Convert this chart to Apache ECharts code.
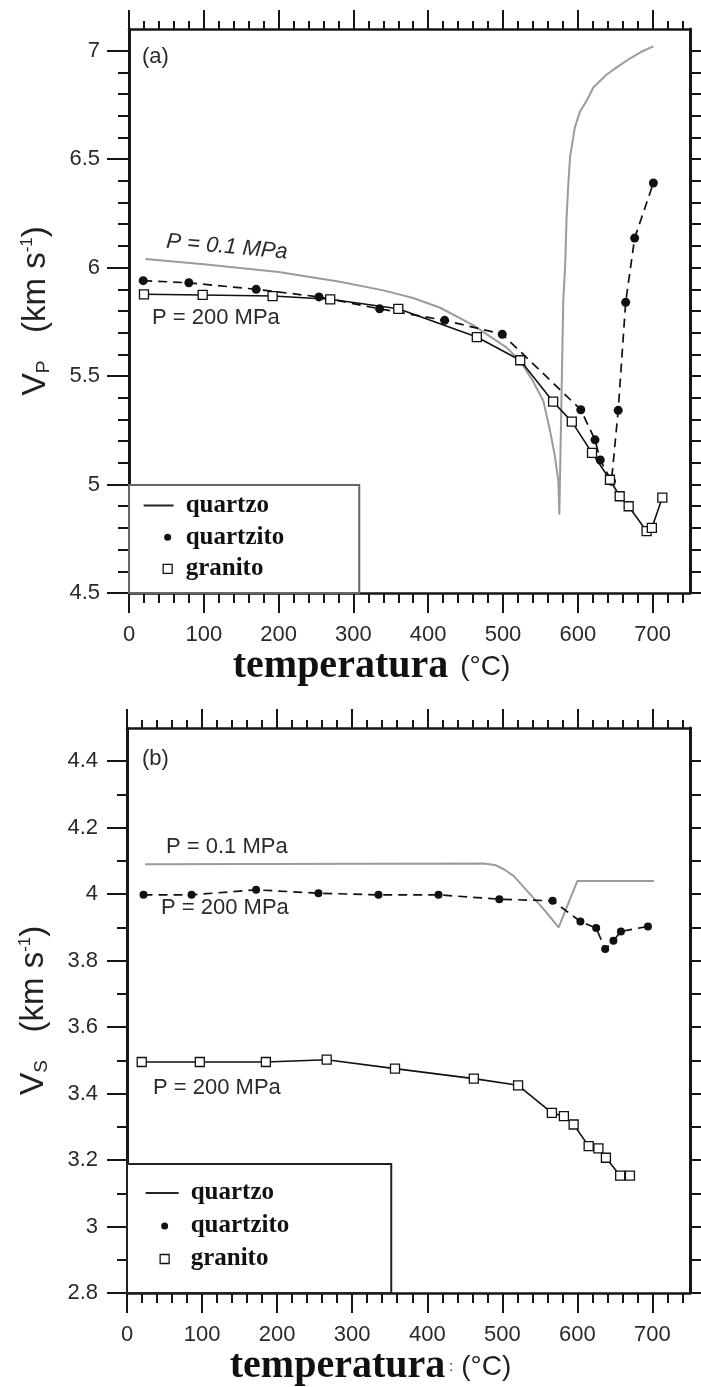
<!DOCTYPE html>
<html>
<head>
<meta charset="utf-8">
<script src="https://cdn.jsdelivr.net/npm/echarts@6/dist/echarts.min.js"></script>
<style>
  html, body { margin: 0; padding: 0; background: #fff; }
  #chart { width: 701px; height: 1387px; }
</style>
</head>
<body>
<div id="chart"></div>
<script>
// ---- tick values ----
const tempTicks = [0, 100, 200, 300, 400, 500, 600, 700];
const vpTicks = [4.5, 5, 5.5, 6, 6.5, 7];
const vsTicks = [2.8, 3, 3.2, 3.4, 3.6, 3.8, 4, 4.2, 4.4];

// ---- (a) Vp, quartzo at P = 0.1 MPa (alpha-beta transition near 573 °C) ----
const vpQuartzoT = [22, 100, 200, 282, 340, 380, 416, 460, 505, 523, 540, 554, 563, 569, 574, 575.3,
                    580.6, 583, 585, 587.3, 589.6, 596, 603, 612, 620.7, 638.6, 655, 670, 685, 701];
const vpQuartzoV = [6.04, 6.016, 5.98, 5.935, 5.895, 5.86, 5.815, 5.735, 5.631, 5.569, 5.477, 5.385, 5.246, 5.139, 5.016, 4.862,
                    5.85, 6.0, 6.23, 6.385, 6.508, 6.646, 6.72, 6.77, 6.83, 6.89, 6.93, 6.965, 6.995, 7.02];

// ---- (a) Vp, quartzito at P = 200 MPa ----
const vpQuartzitoT = [19, 80, 170, 254, 335, 422, 499, 604, 623, 630, 645, 654, 664, 676, 701];
const vpQuartzitoV = [5.94, 5.93, 5.90, 5.865, 5.81, 5.757, 5.693, 5.345, 5.206, 5.113, 5.015, 5.342, 5.84, 6.136, 6.39];

// ---- (a) Vp, granito at P = 200 MPa ----
const vpGranitoT = [20, 98.5, 192, 269, 360, 465, 523, 567, 592, 619, 643, 656, 668, 692, 699, 713];
const vpGranitoV = [5.877, 5.874, 5.869, 5.854, 5.81, 5.68, 5.573, 5.382, 5.29, 5.146, 5.022, 4.946, 4.90, 4.785, 4.80, 4.94];

// ---- (b) Vs, quartzo at P = 0.1 MPa ----
const vsQuartzoT = [24, 475, 490, 502, 515, 533, 555, 575, 600, 702];
const vsQuartzoV = [4.09, 4.092, 4.088, 4.075, 4.055, 4.01, 3.955, 3.90, 4.04, 4.04];

// ---- (b) Vs, quartzito at P = 200 MPa ----
const vsQuartzitoT = [22, 86, 172, 255, 335, 415, 496, 567, 604, 625, 637, 648, 658, 694];
const vsQuartzitoV = [3.998, 3.998, 4.013, 4.003, 3.998, 3.998, 3.985, 3.98, 3.918, 3.898, 3.835, 3.86, 3.888, 3.903];

// ---- (b) Vs, granito at P = 200 MPa ----
const vsGranitoT = [19.6, 97, 185, 266, 357, 462, 521, 566, 582, 595, 615, 628, 638, 657, 670];
const vsGranitoV = [3.495, 3.495, 3.495, 3.502, 3.475, 3.445, 3.425, 3.342, 3.332, 3.307, 3.242, 3.235, 3.207, 3.153, 3.153];

const zip = (xs, ys) => xs.map((x, i) => [x, ys[i]]);

const INK = '#161616';
const SANS = '"Liberation Sans", Arial, sans-serif';
const SERIF = '"Liberation Serif", "Times New Roman", serif';

function xAxes(grid, nameRich, nameText, nameGap) {
  return [
    {
      type: 'value', gridIndex: grid, position: 'bottom',
      min: 0, max: 750, interval: 100,
      axisLine: { onZero: false, lineStyle: { color: INK, width: 2.5 } },
      axisTick: { show: true, length: 20, customValues: tempTicks, lineStyle: { color: INK, width: 2 } },
      minorTick: { show: true, splitNumber: 5, length: 10, lineStyle: { color: INK, width: 2 } },
      axisLabel: { customValues: tempTicks, margin: 31, fontFamily: SANS, fontSize: 22, color: '#2a2a2a' },
      splitLine: { show: false }, minorSplitLine: { show: false },
      name: nameText, nameLocation: 'middle', nameGap: nameGap,
      nameTextStyle: { padding: [0, 76, 0, 0], rich: nameRich }
    },
    {
      type: 'value', gridIndex: grid, position: 'top',
      min: 0, max: 750, interval: 100,
      axisLine: { onZero: false, lineStyle: { color: INK, width: 2.5 } },
      axisTick: { show: true, length: 19, customValues: tempTicks, lineStyle: { color: INK, width: 2 } },
      minorTick: { show: true, splitNumber: 5, length: 8, lineStyle: { color: INK, width: 2 } },
      axisLabel: { show: false },
      splitLine: { show: false }
    }
  ];
}

function yAxes(grid, min, max, interval, ticks, minorSplit, majorLen, minorLen, nameText) {
  const yRich = {
    v: { fontFamily: SANS, fontSize: 34, color: '#222' },
    sub: { fontFamily: SANS, fontSize: 19, color: '#222', verticalAlign: 'bottom' },
    u: { fontFamily: SANS, fontSize: 33, color: '#222' },
    sup: { fontFamily: SANS, fontSize: 17, color: '#222', verticalAlign: 'top' }
  };
  return [
    {
      type: 'value', gridIndex: grid, position: 'left',
      min: min, max: max, interval: interval,
      axisLine: { onZero: false, lineStyle: { color: INK, width: 3 } },
      axisTick: { show: true, length: majorLen, customValues: ticks, lineStyle: { color: INK, width: 2 } },
      minorTick: { show: true, splitNumber: minorSplit, length: minorLen, lineStyle: { color: INK, width: 2 } },
      axisLabel: { customValues: ticks, margin: 29, fontFamily: SANS, fontSize: 22, color: '#2a2a2a' },
      splitLine: { show: false },
      name: nameText, nameLocation: 'middle', nameRotate: 90, nameGap: 76,
      nameTextStyle: { rich: yRich }
    },
    {
      type: 'value', gridIndex: grid, position: 'right',
      min: min, max: max, interval: interval,
      axisLine: { onZero: false, lineStyle: { color: INK, width: 3 } },
      axisTick: { show: true, length: 11, customValues: ticks, lineStyle: { color: INK, width: 2 } },
      minorTick: { show: true, splitNumber: minorSplit, length: 11, lineStyle: { color: INK, width: 2 } },
      axisLabel: { show: false },
      splitLine: { show: false }
    }
  ];
}

const titleRichTop = {
  t: { fontFamily: SERIF, fontWeight: 'bold', fontSize: 40, color: '#111' },
  c: { fontFamily: SANS, fontSize: 28, color: '#222', padding: [0, 0, 0, 12] }
};
const titleRichBottom = {
  t: { fontFamily: SERIF, fontWeight: 'bold', fontSize: 40, color: '#111' },
  s: { fontFamily: SANS, fontSize: 14, color: '#222', padding: [0, 4, 0, 4] },
  c: { fontFamily: SANS, fontSize: 28, color: '#222', padding: [0, 0, 0, 4] }
};

function quartzoSeries(xi, yi, data) {
  return {
    type: 'line', name: 'quartzo', xAxisIndex: xi, yAxisIndex: yi, data: data,
    symbol: 'none', silent: true, z: 2,
    lineStyle: { color: '#9b9b9b', width: 2 }, itemStyle: { color: '#9b9b9b' }
  };
}
function quartzitoSeries(xi, yi, data, size) {
  return {
    type: 'line', name: 'quartzito', xAxisIndex: xi, yAxisIndex: yi, data: data,
    symbol: 'circle', symbolSize: size, showAllSymbol: true, silent: true, z: 4,
    itemStyle: { color: '#111' },
    lineStyle: { color: '#111', width: 1.7, type: [9, 6] }
  };
}
function granitoSeries(xi, yi, data, size) {
  return {
    type: 'line', name: 'granito', xAxisIndex: xi, yAxisIndex: yi, data: data,
    symbol: 'rect', symbolSize: size, showAllSymbol: true, silent: true, z: 5,
    itemStyle: { color: '#fff', borderColor: '#111', borderWidth: 1.3 },
    lineStyle: { color: '#111', width: 1.6 }
  };
}

// legend glyphs: the leading moves fix the icon box so each mark sits where it should
function legendItems(w, lineLen, cx) {
  return [
    { name: 'quartzo', icon: `path://M0,0M${w},10M0,4H${lineLen}V6H0Z`,
      itemStyle: { color: '#222', borderWidth: 0 } },
    { name: 'quartzito', icon: `path://M0,0M${w},10M${cx - 3.5},5A3.5,3.5,0,1,1,${cx + 3.5},5A3.5,3.5,0,1,1,${cx - 3.5},5Z`,
      itemStyle: { color: '#111', borderWidth: 0 } },
    { name: 'granito', icon: `path://M0,0M${w},10M${cx - 4.5},0.5H${cx + 4.5}V9.5H${cx - 4.5}Z`,
      itemStyle: { color: '#fff', borderColor: '#111', borderWidth: 1.3 } }
  ];
}
const legendText = { fontFamily: SERIF, fontWeight: 'bold', fontSize: 25, lineHeight: 25, color: '#111' };

const annotations = [
  { x: 142, y: 57, text: '(a)', style: 'normal', rot: 0, align: 'left' },
  { x: 227, y: 247, text: 'P = 0.1 MPa', style: 'italic', rot: -0.09, align: 'center' },
  { x: 152, y: 318, text: 'P = 200 MPa', style: 'normal', rot: 0, align: 'left' },
  { x: 142, y: 759, text: '(b)', style: 'normal', rot: 0, align: 'left' },
  { x: 166, y: 847, text: 'P = 0.1 MPa', style: 'normal', rot: 0, align: 'left' },
  { x: 161, y: 908, text: 'P = 200 MPa', style: 'normal', rot: 0, align: 'left' },
  { x: 153, y: 1088, text: 'P = 200 MPa', style: 'normal', rot: 0, align: 'left' }
];

const chart = echarts.init(document.getElementById('chart'), null, { renderer: 'canvas' });

chart.setOption({
  animation: false,
  backgroundColor: '#fff',
  grid: [
    { left: 129, top: 29, width: 561, height: 564, outerBoundsMode: 'none', containLabel: false },
    { left: 127, top: 728, width: 563, height: 565, outerBoundsMode: 'none', containLabel: false }
  ],
  xAxis: [
    ...xAxes(0, titleRichTop, '{t|temperatura}{c|(°C)}', 47),
    ...xAxes(1, titleRichBottom, '{t|temperatura}{s|:}{c|(°C)}', 48)
  ],
  yAxis: [
    ...yAxes(0, 4.5, 7.1, 0.5, vpTicks, 5, 22, 11, '{v|V}{sub|P}{u|   (km s}{sup|-1}{u|)}'),
    ...yAxes(1, 2.8, 4.5, 0.2, vsTicks, 2, 20, 10, '{v|V}{sub|S}{u|   (km s}{sup|-1}{u|)}')
  ],
  legend: [
    {
      orient: 'vertical', left: 129, top: 485,
      itemWidth: 37, itemHeight: 10, itemGap: 6.7,
      padding: [8, 75, 11.5, 14],
      borderColor: '#666', borderWidth: 2, backgroundColor: '#fff',
      selectedMode: false,
      textStyle: legendText,
      data: legendItems(37, 30, 24)
    },
    {
      orient: 'vertical', left: 127, top: 1164,
      itemWidth: 40, itemHeight: 10, itemGap: 8,
      padding: [16.5, 102, 21.5, 18],
      borderColor: '#222', borderWidth: 2, backgroundColor: '#fff',
      selectedMode: false,
      textStyle: legendText,
      data: legendItems(40, 33, 19)
    }
  ],
  graphic: annotations.map(a => ({
    type: 'text', x: a.x, y: a.y, rotation: a.rot, silent: true,
    style: {
      text: a.text, fontFamily: SANS, fontSize: 22, fontStyle: a.style,
      fill: '#2a2a2a', align: a.align, verticalAlign: 'middle'
    }
  })),
  series: [
    quartzoSeries(0, 0, zip(vpQuartzoT, vpQuartzoV)),
    quartzitoSeries(0, 0, zip(vpQuartzitoT, vpQuartzitoV), 9),
    granitoSeries(0, 0, zip(vpGranitoT, vpGranitoV), 9),
    quartzoSeries(2, 2, zip(vsQuartzoT, vsQuartzoV)),
    quartzitoSeries(2, 2, zip(vsQuartzitoT, vsQuartzitoV), 8),
    granitoSeries(2, 2, zip(vsGranitoT, vsGranitoV), 9)
  ]
});
</script>
</body>
</html>
